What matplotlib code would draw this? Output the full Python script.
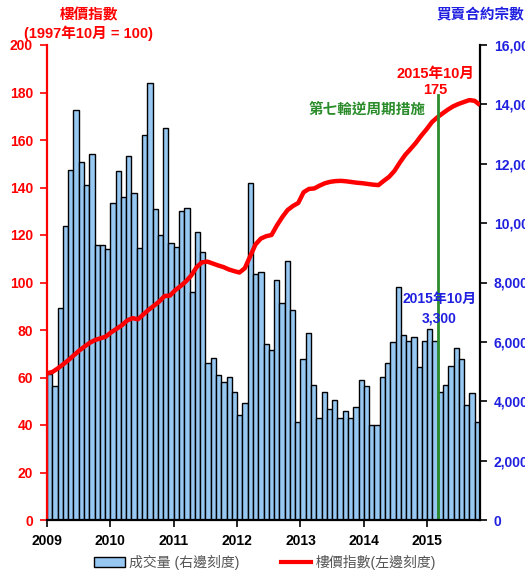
import matplotlib
matplotlib.use("Agg")
import matplotlib.pyplot as plt
import numpy as np
from matplotlib.patches import Patch
from matplotlib.lines import Line2D
from matplotlib.ticker import FuncFormatter

# ---------------- data ----------------
years = ["2009", "2010", "2011", "2012", "2013", "2014", "2015"]

# monthly sale & purchase agreements (Jan 2009 - Oct 2015), right axis
volume = [4920, 4510, 7140, 9900, 11800, 13810, 12060, 11270, 12320, 9280, 9250, 9120,
          10680, 11760, 10880, 12260, 11020, 9150, 12980, 14720, 10460, 9600, 13200, 9340,
          9200, 10410, 10520, 7680, 9690, 9040, 5280, 5470, 4880, 4660, 4830, 4320,
          3540, 3930, 11360, 8290, 8370, 5930, 5730, 8100, 7320, 8740, 7070, 3310,
          5440, 6310, 4540, 3450, 4300, 3740, 4040, 3450, 3680, 3450, 3820, 4700,
          4510, 3200, 3200, 4810, 5280, 5980, 7840, 6230, 6040, 6180, 5170, 6030,
          6450, 6030, 4320, 4540, 5180, 5810, 5420, 3870, 4290, 3300]

# monthly price index (Oct 1997 = 100), left axis
price_index = [61.8, 62.3, 63.8, 65.5, 67.3, 69.3, 71.3, 73.0, 74.6, 75.8, 76.5, 77.2,
               79.0, 80.5, 82.0, 84.0, 85.0, 84.5, 86.5, 88.5, 90.2, 92.0, 94.3, 94.5,
               96.8, 98.5, 100.5, 103.0, 106.5, 108.5, 108.8, 108.0, 107.2, 106.5, 105.5, 104.8,
               104.2, 106.0, 111.0, 116.0, 118.5, 119.5, 120.0, 124.0, 127.5, 130.5, 132.2, 133.5,
               138.0, 139.4, 139.6, 140.8, 141.8, 142.4, 142.7, 142.8, 142.6, 142.3, 142.0, 141.8,
               141.5, 141.2, 141.0, 142.8, 144.5, 147.0, 150.5, 153.7, 156.2, 158.8, 161.8, 164.5,
               167.5, 169.5, 171.2, 172.8, 174.2, 175.2, 176.0, 176.8, 176.5, 174.7]

event_month = 74          # Mar 2015: 7th round of counter-cyclical measures
event_label = "第七輪逆周期措施"
price_note = ["2015年10月", "175"]
volume_note = ["2015年10月", "3,300"]
left_title = ["樓價指數", "(1997年10月 = 100)"]
right_title = "買賣合約宗數"
legend_labels = ["成交量 (右邊刻度)", "樓價指數(左邊刻度)"]

# ---------------- style ----------------
FAM = ["Liberation Sans", "Noto Sans CJK TC"]
plt.rcParams["font.family"] = FAM
RED = "#FF0000"
BLUE = "#1F1FE0"
GREEN = "#2A8C2A"
BAR = "#96C8F2"

W, H = 525, 575
fig = plt.figure(figsize=(W / 100, H / 100), dpi=100)
L, R, B, T = 47, 480, 520, 45
axL = fig.add_axes([L / W, 1 - B / H, (R - L) / W, (B - T) / H])
axR = axL.twinx()
axL.set_zorder(axR.get_zorder() + 1)
axL.patch.set_visible(False)

n = len(volume)
xb = np.arange(n) + 0.5
axR.bar(xb, volume, width=1.0, color=BAR, edgecolor="black", linewidth=1.0)
xl = np.linspace(0, n, len(price_index))
axL.plot(xl, price_index, color=RED, linewidth=3.2, solid_capstyle="butt")

axL.set_xlim(0, n)
axL.set_ylim(0, 200)
axR.set_ylim(0, 16000)
axL.set_yticks(np.arange(0, 201, 20))
axR.set_yticks(np.arange(0, 16001, 2000))
axR.yaxis.set_major_formatter(FuncFormatter(lambda v, p: "0" if v == 0 else f"{int(v):,}"))
axL.set_xticks(np.arange(len(years)) * 12)
axL.set_xticklabels(years)

for ax in (axL, axR):
    ax.spines["top"].set_visible(False)
axL.spines["left"].set_color(RED)
axL.spines["left"].set_linewidth(1.6)
axL.spines["right"].set_visible(False)
axR.spines["left"].set_visible(False)
axR.spines["right"].set_color("black")
axR.spines["right"].set_linewidth(1.6)
axL.spines["bottom"].set_color("black")
axL.spines["bottom"].set_linewidth(1.6)
axR.spines["bottom"].set_visible(False)

axL.tick_params(axis="y", colors=RED, labelcolor=RED, length=5, width=1.2, pad=5)
axR.tick_params(axis="y", colors="black", labelcolor=BLUE, length=5, width=1.2, pad=5)
axL.tick_params(axis="x", colors="black", length=5, width=1.2, pad=5)
for lab in axL.get_yticklabels() + axL.get_xticklabels():
    lab.set_fontweight("bold"); lab.set_fontsize(10)
for lab in axR.get_yticklabels():
    lab.set_fontweight("bold"); lab.set_fontsize(10)

# titles
fig.text(89 / W, 1 - 15 / H, left_title[0], color=RED, fontsize=10.5, fontweight="bold",
         ha="center", va="center", family=FAM)
fig.text(88 / W, 1 - 33 / H, left_title[1], color=RED, fontsize=10.5, fontweight="bold",
         ha="center", va="center", family=FAM)
fig.text(437 / W, 1 - 15 / H, right_title, color=BLUE, fontsize=10.5, fontweight="bold",
         ha="left", va="center", family=FAM)

# event line and annotations
axL.plot([event_month, event_month], [0, 179], color=GREEN, linewidth=2)
axL.text(event_month - 2.3, 173, event_label, color=GREEN, fontsize=10.5, fontweight="bold",
         ha="right", va="center", family=FAM)
axL.text(event_month - 0.5, 188, price_note[0], color=RED, fontsize=10.5, fontweight="bold",
         ha="center", va="center", family=FAM)
axL.text(event_month - 0.5, 181, price_note[1], color=RED, fontsize=10.5, fontweight="bold",
         ha="center", va="center", family=FAM)
axL.text(event_month + 0.3, 93, volume_note[0], color=BLUE, fontsize=10, fontweight="bold",
         ha="center", va="center", family=FAM)
axL.text(event_month + 0.3, 85, volume_note[1], color=BLUE, fontsize=10, fontweight="bold",
         ha="center", va="center", family=FAM)

# legend
handles = [Patch(facecolor=BAR, edgecolor="black", linewidth=1.0),
           Line2D([0], [0], color=RED, linewidth=3)]
leg = fig.legend(handles, legend_labels, loc="center", bbox_to_anchor=(265 / W, 1 - 562 / H),
                 ncol=2, frameon=False, fontsize=10, handlelength=2.2, handletextpad=0.3,
                 columnspacing=3.0)
for t in leg.get_texts():
    t.set_color("#555555")

fig.savefig("out.png", dpi=100)
